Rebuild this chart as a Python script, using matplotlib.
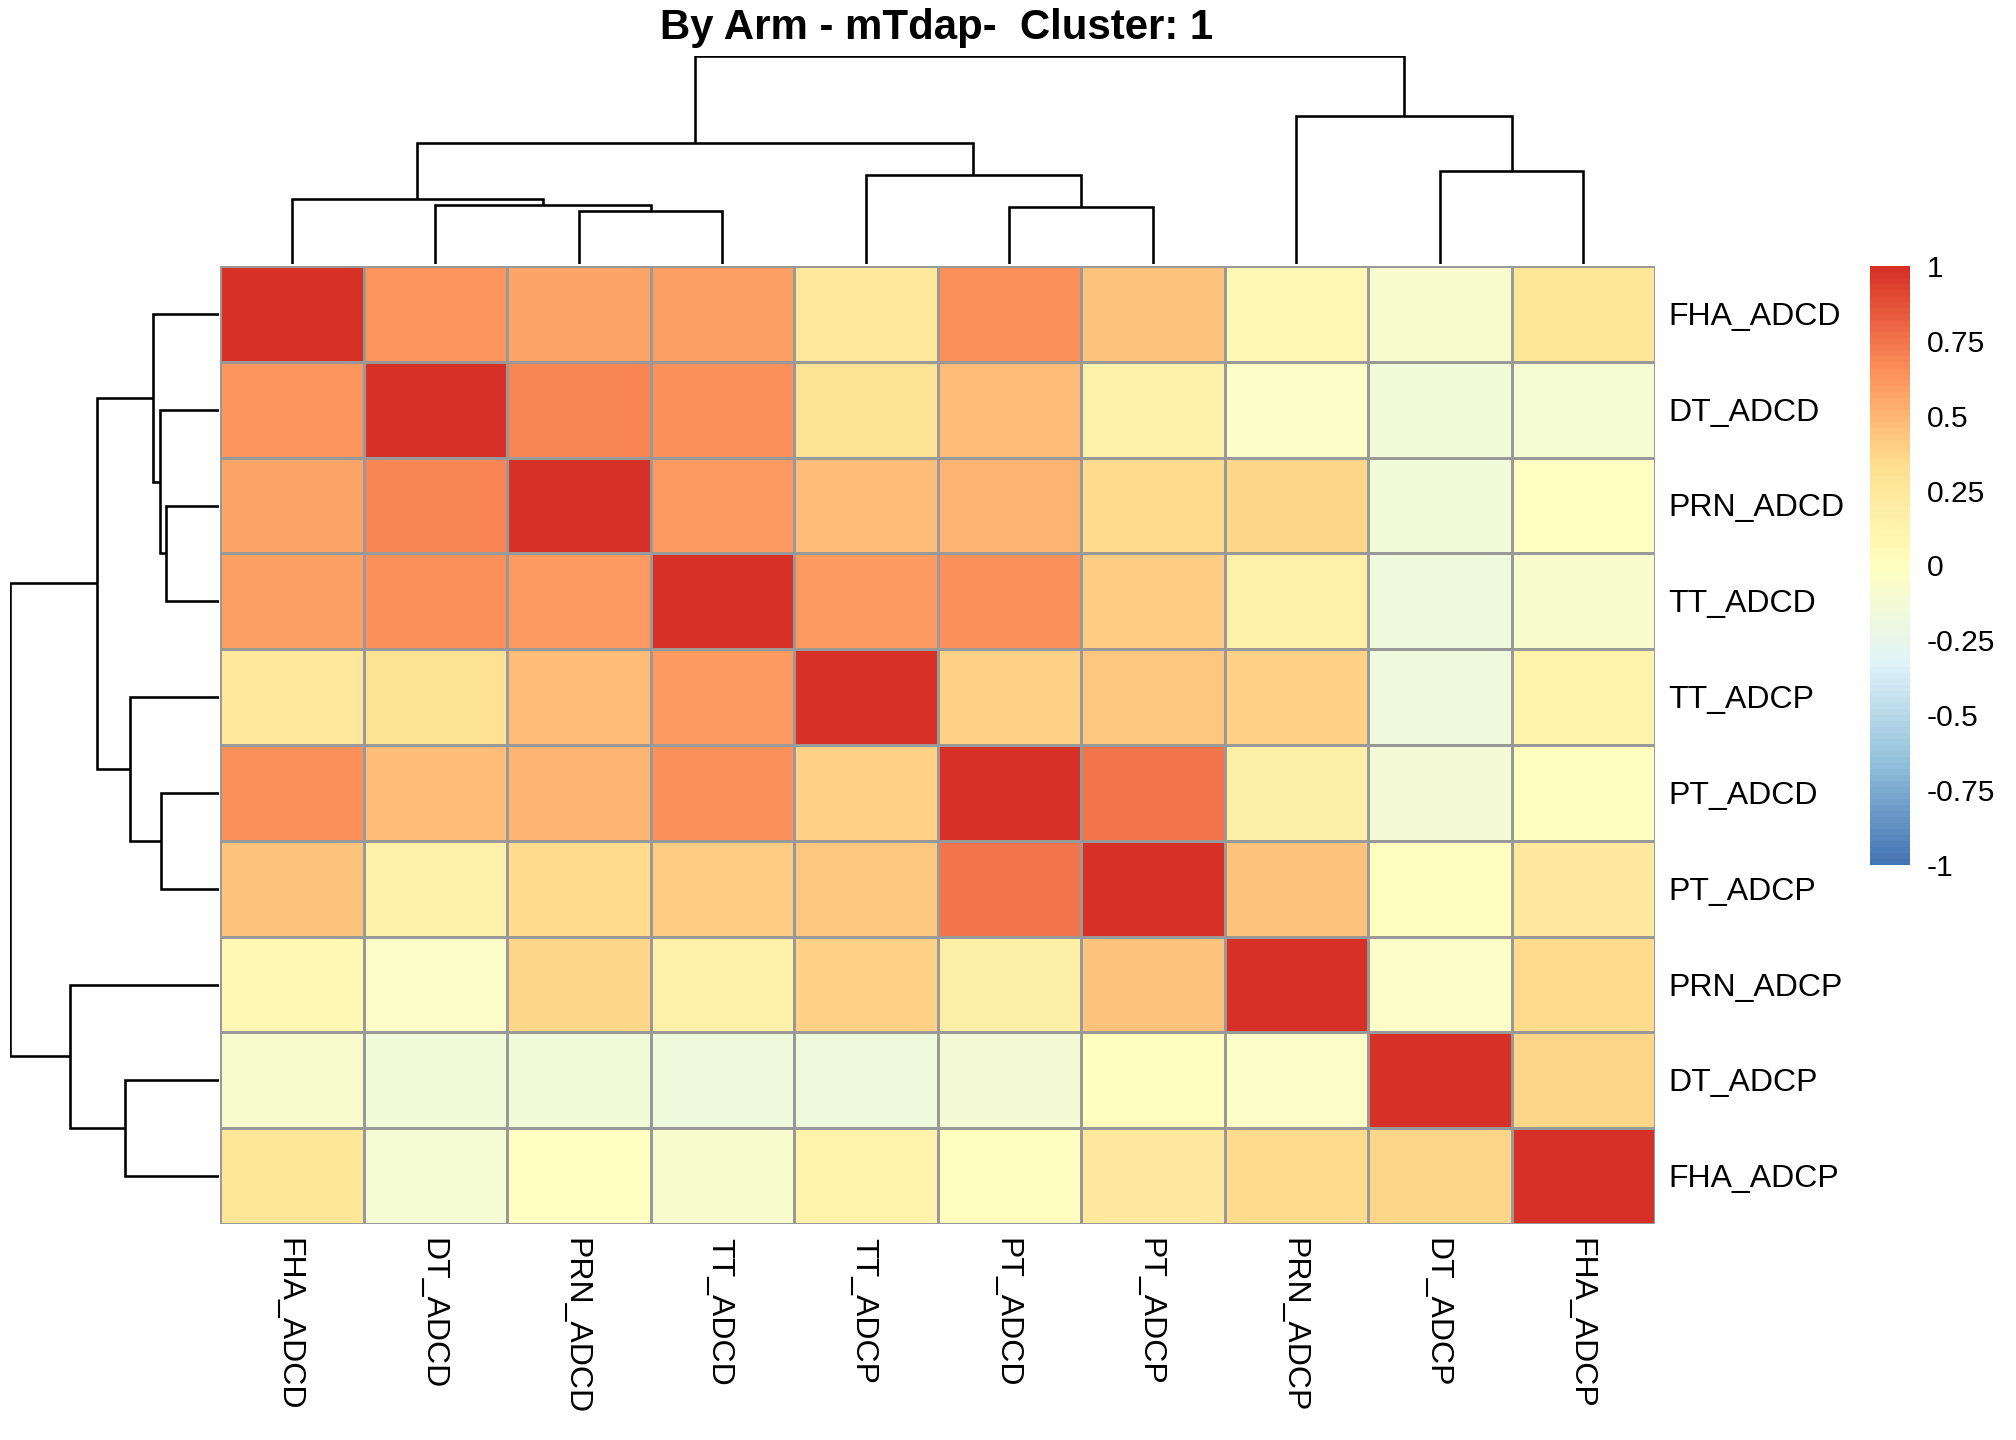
import matplotlib
matplotlib.use("Agg")
import matplotlib.pyplot as plt
import numpy as np
from matplotlib.colors import LinearSegmentedColormap, Normalize
from matplotlib.cm import ScalarMappable
from matplotlib.transforms import offset_copy

plt.rcParams['font.family'] = ['Liberation Sans', 'DejaVu Sans']

# ---------------- data ----------------
title = "By Arm - mTdap-  Cluster: 1"
labels = ["FHA_ADCD", "DT_ADCD", "PRN_ADCD", "TT_ADCD", "TT_ADCP",
          "PT_ADCD", "PT_ADCP", "PRN_ADCP", "DT_ADCP", "FHA_ADCP"]

corr = [
    [1.00, 0.62, 0.56, 0.59, 0.25, 0.64, 0.44, 0.07, -0.10, 0.27],
    [0.62, 1.00, 0.69, 0.65, 0.31, 0.46, 0.16, -0.06, -0.16, -0.12],
    [0.56, 0.69, 1.00, 0.61, 0.46, 0.51, 0.35, 0.37, -0.16, -0.02],
    [0.59, 0.65, 0.61, 1.00, 0.61, 0.65, 0.41, 0.14, -0.18, -0.10],
    [0.25, 0.31, 0.46, 0.61, 1.00, 0.38, 0.42, 0.39, -0.17, 0.13],
    [0.64, 0.46, 0.51, 0.65, 0.38, 1.00, 0.75, 0.17, -0.13, 0.01],
    [0.44, 0.16, 0.35, 0.41, 0.42, 0.75, 1.00, 0.44, 0.00, 0.23],
    [0.07, -0.06, 0.37, 0.14, 0.39, 0.17, 0.44, 1.00, -0.05, 0.35],
    [-0.10, -0.16, -0.16, -0.18, -0.17, -0.13, 0.00, -0.05, 1.00, 0.37],
    [0.27, -0.12, -0.02, -0.10, 0.13, 0.01, 0.23, 0.35, 0.37, 1.00],
]

# hierarchical clustering merges: (child_a, child_b, height / root height)
# ids 0-9 are leaves in display order, 10+ are previous merges
merge_a = [2, 1, 0, 5, 4, 12, 8, 7, 15]
merge_b = [3, 10, 11, 6, 13, 14, 9, 16, 17]
merge_h = [0.255, 0.283, 0.314, 0.276, 0.426, 0.583, 0.448, 0.712, 1.0]

legend_ticks = [-1, -0.75, -0.5, -0.25, 0, 0.25, 0.5, 0.75, 1]
legend_labels = ["-1", "-0.75", "-0.5", "-0.25", "0", "0.25", "0.5", "0.75", "1"]

palette = ["#4575B4", "#91BFDB", "#E0F3F8", "#FFFFBF", "#FEE090", "#FC8D59", "#D73027"]

# ---------------- figure ----------------
W, H = 2016, 1440
fig = plt.figure(figsize=(W / 144, H / 144), dpi=144)

def px_axes(x0, y0, x1, y1):
    return fig.add_axes([x0 / W, 1 - y1 / H, (x1 - x0) / W, (y1 - y0) / H])

cmap = LinearSegmentedColormap.from_list("rdylbu_rev", palette, N=100)
norm = Normalize(-1, 1)

hx0, hy0, hx1, hy1 = 220, 266, 1655, 1224
ax = px_axes(hx0, hy0, hx1, hy1)
data = np.array(corr)
n = len(labels)
ax.pcolormesh(np.arange(n + 1), np.arange(n + 1), data, cmap=cmap, norm=norm,
              edgecolors="#999999", linewidth=1.3)
ax.set_xlim(0, n)
ax.set_ylim(n, 0)
ax.axis("off")

# row labels
tr_row = offset_copy(ax.transData, fig=fig, x=13, y=-11, units="dots")
for i, lab in enumerate(labels):
    ax.text(n, i + 0.5, lab, transform=tr_row, ha="left", va="baseline",
            fontsize=16, clip_on=False)
# column labels
tr_col = offset_copy(ax.transData, fig=fig, x=-11, y=-14, units="dots")
for j, lab in enumerate(labels):
    ax.text(j + 0.5, n, lab, transform=tr_col, rotation=270, rotation_mode="anchor",
            ha="left", va="baseline", fontsize=16, clip_on=False)

# dendrograms
def dendro_segments():
    pos = {i: i + 0.5 for i in range(n)}
    hgt = {i: 0.0 for i in range(n)}
    segs = []
    for k, (a, b, h) in enumerate(zip(merge_a, merge_b, merge_h)):
        segs.append(([pos[a], pos[a], pos[b], pos[b]], [hgt[a], h, h, hgt[b]]))
        pos[n + k] = (pos[a] + pos[b]) / 2
        hgt[n + k] = h
    return segs

segs = dendro_segments()

axt = px_axes(hx0, 56, hx1, 264)
for xs, ys in segs:
    axt.plot(xs, ys, color="black", lw=1.3, solid_capstyle="butt", solid_joinstyle="miter")
axt.set_xlim(0, n)
axt.set_ylim(0, 1)
axt.axis("off")

axl = px_axes(10, hy0, 219, hy1)
for xs, ys in segs:
    axl.plot(ys, xs, color="black", lw=1.3, solid_capstyle="butt", solid_joinstyle="miter")
axl.set_xlim(1, 0)
axl.set_ylim(n, 0)
axl.axis("off")

# color legend
cax = px_axes(1870, 266, 1910, 865)
cb = fig.colorbar(ScalarMappable(norm=norm, cmap=cmap), cax=cax)
cb.outline.set_visible(False)
cb.set_ticks(legend_ticks)
cb.set_ticklabels(legend_labels)
cax.tick_params(length=0, pad=8.5, labelsize=15)

# title
fig.text(937 / W, 1 - 39 / H, title, ha="center", va="baseline",
         fontsize=21, fontweight="bold")

fig.savefig("out.png", dpi=144, facecolor="white")
